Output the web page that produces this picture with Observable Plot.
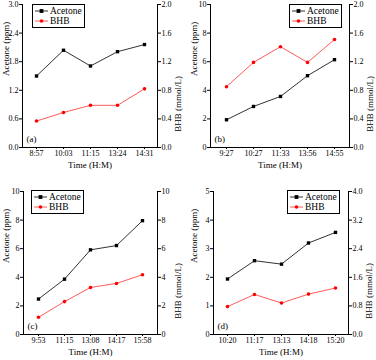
<!DOCTYPE html>
<html><head><meta charset="utf-8">
<script src="https://cdn.jsdelivr.net/npm/d3@7"></script>
<script src="https://cdn.jsdelivr.net/npm/@observablehq/plot@0.6"></script>
<style>
body{margin:0;background:#fff;}
#grid{position:relative;width:376px;height:360px;overflow:hidden;}
.panel{position:absolute;width:188px;height:180px;}
.panel svg{overflow:visible;}
.legend{position:absolute;box-sizing:border-box;border:1px solid #000;background:#fff;font:9.5px "Liberation Serif",serif;color:#000;padding:0 2px 0 2px;}
.legend .row{display:flex;align-items:center;height:10px;white-space:nowrap;}
.legend svg{margin-right:2px;}
</style></head>
<body>
<div id="grid"></div>
<script>
// Panel (a)
const timesA = ["8:57","10:03","11:15","13:24","14:31"];
const acetoneA = [1.50, 2.04, 1.71, 2.01, 2.16];
const bhbA = [0.37, 0.49, 0.59, 0.59, 0.82];
// Panel (b)
const timesB = ["9:27","10:27","11:33","13:56","14:55"];
const acetoneB = [1.94, 2.87, 3.57, 5.02, 6.14];
const bhbB = [0.85, 1.19, 1.41, 1.19, 1.51];
// Panel (c)
const timesC = ["9:53","11:15","13:08","14:17","15:58"];
const acetoneC = [2.48, 3.87, 5.92, 6.22, 7.96];
const bhbC = [1.21, 2.30, 3.29, 3.57, 4.18];
// Panel (d)
const timesD = ["10:20","11:17","13:13","14:18","15:20"];
const acetoneD = [1.94, 2.58, 2.46, 3.20, 3.57];
const bhbD = [0.78, 1.12, 0.88, 1.13, 1.30];

// axis tick values
const leftTicksA = [0, 0.6, 1.2, 1.8, 2.4, 3.0];
const rightTicksA = [0, 0.4, 0.8, 1.2, 1.6, 2.0];
const leftTicksB = [0, 2, 4, 6, 8, 10];
const rightTicksB = [0, 0.4, 0.8, 1.2, 1.6, 2.0];
const leftTicksC = [0, 2, 4, 6, 8, 10];
const rightTicksC = [0, 2, 4, 6, 8, 10];
const leftTicksD = [0, 1, 2, 3, 4, 5];
const rightTicksD = [0, 0.8, 1.6, 2.4, 3.2, 4.0];

const seriesNames = ["Acetone", "BHB"];
const xTitle = "Time (H:M)";
const leftTitle = "Acetone (ppm)";
const rightTitle = "BHB (mmol/L)";

const panels = [
  {tag:"(a)", times:timesA, ac:acetoneA, bhb:bhbA, lt:leftTicksA, rt:rightTicksA, lf:".1f", rf:".1f",
   left:0, top:0, mL:22, mR:31, mT:4, mB:33, leg:{x:32,y:4}},
  {tag:"(b)", times:timesB, ac:acetoneB, bhb:bhbB, lt:leftTicksB, rt:rightTicksB, lf:"d", rf:".1f",
   left:188, top:0, mL:22, mR:27, mT:4, mB:33, leg:{x:101,y:4}},
  {tag:"(c)", times:timesC, ac:acetoneC, bhb:bhbC, lt:leftTicksC, rt:rightTicksC, lf:"d", rf:"d",
   left:0, top:180, mL:23, mR:31, mT:11, mB:26, leg:{x:31,y:10}},
  {tag:"(d)", times:timesD, ac:acetoneD, bhb:bhbD, lt:leftTicksD, rt:rightTicksD, lf:"d", rf:".1f",
   left:188, top:180, mL:25, mR:28, mT:11, mB:26, leg:{x:99,y:10}}
];

const black = "#000";
const lineGray = "#333";
const red = "#ff0000";
const lineRed = "#ff5a5a";
const font = "Liberation Serif";

const grid = document.getElementById("grid");
for (const p of panels) {
  const lmax = p.lt[p.lt.length-1], rmax = p.rt[p.rt.length-1];
  const ratio = lmax / rmax;
  const data = p.times.map((t,i)=>({t, ac:p.ac[i], bhb:p.bhb[i]*ratio}));
  const lfmt = d3.format(p.lf), rfmt = d3.format(p.rf);
  const chart = Plot.plot({
    width:188, height:180,
    marginLeft:p.mL, marginRight:p.mR, marginTop:p.mT, marginBottom:p.mB,
    style:{fontFamily:font, fontSize:"8px", color:"#000", background:"transparent", overflow:"visible"},
    x:{type:"point", domain:p.times, padding:0.5},
    y:{domain:[0,lmax]},
    marks:[
      Plot.frame({anchor:"left", stroke:black}),
      Plot.frame({anchor:"right", stroke:black}),
      Plot.frame({anchor:"bottom", stroke:black}),
      Plot.axisY(p.lt, {anchor:"left", tickSize:3, tickPadding:1, tickFormat:lfmt, label:null}),
      Plot.axisY(p.rt.map(v=>v*ratio), {anchor:"right", tickSize:3, tickPadding:1, tickFormat:d=>rfmt(d/ratio), label:null}),
      Plot.axisX(p.times, {anchor:"bottom", tickSize:2, tickPadding:1, label:null}),
      Plot.line(data, {x:"t", y:"ac", stroke:lineGray, strokeWidth:1}),
      Plot.dot(data, {x:"t", y:"ac", symbol:"square", r:1.9, fill:black, stroke:null}),
      Plot.line(data, {x:"t", y:"bhb", stroke:lineRed, strokeWidth:1}),
      Plot.dot(data, {x:"t", y:"bhb", symbol:"circle", r:1.8, fill:red, stroke:null}),
      Plot.text([xTitle], {frameAnchor:"bottom", dy:20, fontSize:9}),
      Plot.text([leftTitle], {frameAnchor:"left", dx:-(p.mL-6), rotate:-90, fontSize:9}),
      Plot.text([rightTitle], {frameAnchor:"right", dx:21, rotate:-90, fontSize:9}),
      Plot.text([p.tag], {frameAnchor:"bottom-left", dx:4, dy:-6, textAnchor:"start", fontSize:9})
    ]
  });
  const div = document.createElement("div");
  div.className = "panel";
  div.style.left = p.left + "px";
  div.style.top = p.top + "px";
  div.appendChild(chart);
  // legend
  const leg = document.createElement("div");
  leg.className = "legend";
  leg.style.left = p.leg.x + "px";
  leg.style.top = p.leg.y + "px";
  const sw = [
    `<svg width="13" height="8"><line x1="0" y1="4" x2="13" y2="4" stroke="${lineGray}"/><rect x="4.6" y="2.1" width="3.8" height="3.8" fill="${black}"/></svg>`,
    `<svg width="13" height="8"><line x1="0" y1="4" x2="13" y2="4" stroke="${lineRed}"/><circle cx="6.5" cy="4" r="1.8" fill="${red}"/></svg>`
  ];
  leg.innerHTML = seriesNames.map((n,i)=>`<div class="row">${sw[i]}<span>${n}</span></div>`).join("");
  leg.style.paddingTop = "1px";
  leg.style.paddingBottom = "1px";
  div.appendChild(leg);
  grid.appendChild(div);
}
</script>
</body></html>
